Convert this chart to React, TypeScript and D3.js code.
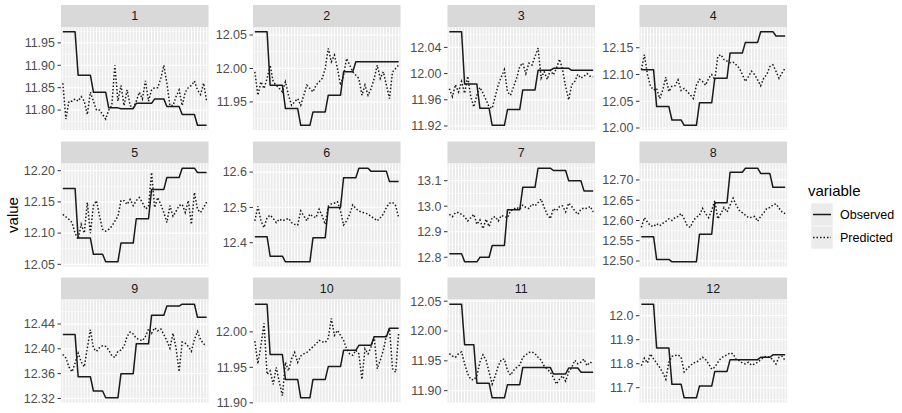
import React from 'react';
import * as d3 from 'd3';

const panelLabels = ['1', '2', '3', '4', '5', '6', '7', '8', '9', '10', '11', '12'];
const seriesNames = ['Observed', 'Predicted'];

const obs01 = [11.975,11.975,11.975,11.975,11.975,11.878,11.878,11.878,11.878,11.878,11.84,11.84,11.84,11.84,11.84,11.805,11.805,11.805,11.805,11.803,11.803,11.803,11.803,11.803,11.815,11.815,11.815,11.815,11.815,11.815,11.825,11.825,11.825,11.825,11.808,11.808,11.808,11.808,11.808,11.79,11.79,11.79,11.79,11.79,11.766,11.766,11.766,11.766];
const pred01 = [11.86,11.78,11.82,11.82,11.825,11.82,11.83,11.82,11.79,11.84,11.82,11.80,11.80,11.79,11.78,11.80,11.81,11.90,11.82,11.855,11.81,11.845,11.81,11.805,11.82,11.84,11.825,11.865,11.82,11.845,11.85,11.85,11.87,11.90,11.86,11.81,11.81,11.83,11.845,11.81,11.84,11.85,11.855,11.865,11.845,11.835,11.86,11.82];

const obs02 = [12.055,12.055,12.055,12.055,12.055,11.975,11.975,11.975,11.975,11.975,11.94,11.94,11.94,11.94,11.94,11.915,11.915,11.915,11.915,11.935,11.935,11.935,11.935,11.935,11.96,11.96,11.96,11.96,11.96,11.995,11.995,11.995,11.995,12.01,12.01,12.01,12.01,12.01,12.01,12.01,12.01,12.01,12.01,12.01,12.01,12.01,12.01,12.01];
const pred02 = [11.995,11.96,11.98,11.97,11.985,12.005,11.98,11.975,11.97,11.965,11.98,11.96,11.945,11.95,11.955,11.945,11.96,11.975,11.97,11.965,11.975,11.98,11.985,12.0,12.03,12.01,12.02,12.0,11.975,11.99,12.015,12.005,11.995,11.99,11.985,11.96,11.975,11.96,11.97,11.985,12.005,11.985,11.995,11.975,11.955,11.995,12.0,12.005];

const obs03 = [12.064,12.064,12.064,12.064,12.064,11.984,11.984,11.984,11.984,11.984,11.947,11.947,11.947,11.947,11.921,11.921,11.921,11.921,11.921,11.945,11.945,11.945,11.945,11.945,11.975,11.975,11.975,11.975,11.975,12.005,12.005,12.005,12.005,12.005,12.008,12.008,12.008,12.008,12.008,12.008,12.005,12.005,12.005,12.005,12.005,12.005,12.005,12.005];
const pred03 = [11.977,11.965,11.983,11.972,11.988,11.97,11.996,11.965,11.949,11.967,11.979,11.97,11.96,11.949,11.947,11.965,11.983,11.995,12.006,11.972,11.967,11.98,11.993,12.011,12.016,12.0,12.016,12.013,12.026,12.039,11.993,12.003,11.991,12.005,11.998,12.008,12.022,12.006,11.98,11.96,11.983,11.988,11.999,11.993,11.996,12.0,11.996,11.995];

const obs04 = [12.109,12.109,12.109,12.109,12.109,12.04,12.04,12.04,12.04,12.04,12.015,12.015,12.015,12.015,12.005,12.005,12.005,12.005,12.005,12.047,12.047,12.047,12.047,12.047,12.093,12.093,12.093,12.093,12.093,12.14,12.14,12.14,12.14,12.14,12.16,12.16,12.16,12.16,12.16,12.18,12.18,12.18,12.18,12.18,12.172,12.172,12.172,12.172];
const pred04 = [12.109,12.137,12.1,12.078,12.071,12.074,12.055,12.071,12.095,12.068,12.078,12.079,12.09,12.07,12.074,12.068,12.062,12.055,12.08,12.091,12.087,12.08,12.093,12.1,12.09,12.134,12.137,12.128,12.125,12.122,12.123,12.118,12.112,12.1,12.087,12.096,12.106,12.1,12.09,12.079,12.093,12.1,12.115,12.118,12.106,12.093,12.103,12.112];

const obs05 = [12.1715,12.1715,12.1715,12.1715,12.1715,12.092,12.092,12.092,12.092,12.092,12.066,12.066,12.066,12.066,12.054,12.054,12.054,12.054,12.054,12.084,12.084,12.084,12.084,12.084,12.123,12.123,12.123,12.123,12.123,12.17,12.17,12.17,12.17,12.17,12.189,12.189,12.189,12.189,12.189,12.204,12.204,12.204,12.204,12.204,12.197,12.197,12.197,12.197];
const pred05 = [12.13,12.126,12.122,12.117,12.1,12.09,12.114,12.1,12.149,12.1,12.144,12.152,12.127,12.106,12.103,12.106,12.111,12.119,12.127,12.152,12.152,12.146,12.154,12.144,12.152,12.157,12.149,12.139,12.142,12.197,12.141,12.157,12.146,12.133,12.117,12.144,12.127,12.135,12.144,12.146,12.133,12.152,12.114,12.165,12.138,12.133,12.141,12.15];

const obs06 = [12.417,12.417,12.417,12.417,12.417,12.362,12.362,12.362,12.362,12.362,12.346,12.346,12.346,12.346,12.346,12.346,12.346,12.346,12.346,12.414,12.414,12.414,12.414,12.414,12.5,12.5,12.5,12.5,12.5,12.584,12.584,12.584,12.584,12.584,12.611,12.611,12.611,12.611,12.602,12.602,12.602,12.602,12.602,12.602,12.573,12.573,12.573,12.573];
const pred06 = [12.462,12.503,12.462,12.443,12.471,12.478,12.469,12.457,12.467,12.462,12.465,12.469,12.457,12.452,12.45,12.49,12.476,12.462,12.481,12.474,12.471,12.495,12.476,12.452,12.503,12.51,12.512,12.516,12.49,12.45,12.462,12.481,12.507,12.497,12.49,12.486,12.484,12.481,12.474,12.469,12.462,12.471,12.481,12.5,12.512,12.514,12.505,12.471];

const obs07 = [12.814,12.814,12.814,12.814,12.814,12.782,12.782,12.782,12.782,12.782,12.8,12.8,12.8,12.8,12.846,12.846,12.846,12.846,12.846,12.986,12.986,12.986,12.986,12.986,13.074,13.074,13.074,13.074,13.074,13.149,13.149,13.149,13.149,13.149,13.14,13.14,13.14,13.14,13.14,13.1,13.1,13.1,13.1,13.1,13.06,13.06,13.06,13.06];
const pred07 = [12.968,12.959,12.975,12.975,12.968,12.959,12.942,12.955,12.968,12.929,12.946,12.912,12.949,12.92,12.955,12.959,12.942,12.964,12.959,12.955,12.982,12.988,12.995,12.988,13.004,12.995,12.991,13.008,13.001,13.014,13.028,12.995,12.968,12.951,12.991,12.982,12.999,13.001,12.978,13.012,12.999,12.982,12.968,12.988,12.993,12.991,12.999,12.978];

const obs08 = [12.56,12.56,12.56,12.56,12.56,12.504,12.504,12.504,12.504,12.504,12.498,12.498,12.498,12.498,12.498,12.498,12.498,12.498,12.498,12.566,12.566,12.566,12.566,12.566,12.644,12.644,12.644,12.644,12.644,12.719,12.719,12.719,12.719,12.719,12.729,12.729,12.729,12.729,12.729,12.716,12.716,12.716,12.716,12.682,12.682,12.682,12.682,12.682];
const pred08 = [12.583,12.607,12.596,12.587,12.585,12.592,12.587,12.593,12.598,12.604,12.6,12.607,12.61,12.617,12.604,12.587,12.583,12.6,12.608,12.613,12.63,12.617,12.607,12.625,12.649,12.604,12.617,12.632,12.621,12.638,12.655,12.638,12.625,12.619,12.613,12.607,12.608,12.61,12.598,12.61,12.619,12.63,12.632,12.638,12.641,12.63,12.621,12.617];

const obs09 = [12.423,12.423,12.423,12.423,12.423,12.355,12.355,12.355,12.355,12.355,12.332,12.332,12.332,12.332,12.321,12.321,12.321,12.321,12.321,12.36,12.36,12.36,12.36,12.36,12.408,12.408,12.408,12.408,12.408,12.454,12.454,12.454,12.454,12.454,12.469,12.469,12.469,12.469,12.469,12.472,12.472,12.472,12.472,12.472,12.451,12.451,12.451,12.451];
const pred09 = [12.391,12.385,12.371,12.363,12.377,12.393,12.379,12.371,12.401,12.431,12.401,12.396,12.402,12.405,12.404,12.398,12.389,12.386,12.396,12.398,12.404,12.42,12.427,12.424,12.417,12.415,12.413,12.42,12.432,12.425,12.434,12.429,12.432,12.423,12.413,12.401,12.425,12.401,12.363,12.411,12.409,12.404,12.396,12.415,12.428,12.415,12.408,12.405];

const obs10 = [12.039,12.039,12.039,12.039,12.039,11.968,11.968,11.968,11.968,11.968,11.933,11.933,11.933,11.933,11.933,11.907,11.907,11.907,11.907,11.933,11.933,11.933,11.933,11.933,11.951,11.951,11.951,11.951,11.951,11.974,11.974,11.974,11.974,11.974,11.981,11.981,11.981,11.981,11.981,11.993,11.993,11.993,11.993,11.993,12.005,12.005,12.005,12.005];
const pred10 = [11.987,11.955,11.981,12.012,11.94,11.945,11.926,11.95,11.929,11.91,11.957,11.945,11.962,11.971,11.957,11.966,11.969,11.971,11.975,11.979,11.983,11.988,11.986,11.985,11.991,12.019,11.995,12.002,11.995,11.988,11.976,11.969,11.967,11.974,11.969,11.933,11.976,11.969,11.979,11.993,11.948,11.96,11.974,11.995,12.005,11.948,11.943,11.998];

const obs11 = [12.045,12.045,12.045,12.045,12.045,11.977,11.977,11.977,11.977,11.9125,11.9125,11.9125,11.9125,11.9125,11.888,11.888,11.888,11.888,11.888,11.91,11.91,11.91,11.91,11.91,11.939,11.939,11.939,11.939,11.939,11.939,11.939,11.939,11.939,11.939,11.928,11.928,11.928,11.928,11.928,11.938,11.938,11.938,11.938,11.931,11.931,11.931,11.931,11.931];
const pred11 = [11.962,11.958,11.956,11.962,11.965,11.945,11.928,11.919,11.918,11.925,11.948,11.96,11.951,11.931,11.911,11.925,11.942,11.952,11.953,11.934,11.926,11.934,11.939,11.943,11.956,11.96,11.964,11.965,11.962,11.956,11.951,11.941,11.936,11.931,11.922,11.911,11.919,11.925,11.916,11.931,11.939,11.951,11.945,11.948,11.953,11.942,11.948,11.945];

const obs12 = [12.048,12.048,12.048,12.048,12.048,11.866,11.866,11.866,11.866,11.866,11.714,11.714,11.714,11.714,11.658,11.658,11.658,11.658,11.658,11.707,11.707,11.707,11.707,11.707,11.768,11.768,11.768,11.768,11.768,11.817,11.817,11.817,11.817,11.817,11.817,11.817,11.817,11.817,11.817,11.827,11.827,11.827,11.827,11.837,11.837,11.837,11.837,11.837];
const pred12 = [11.792,11.823,11.803,11.841,11.82,11.803,11.785,11.763,11.735,11.806,11.831,11.834,11.837,11.827,11.766,11.78,11.792,11.803,11.806,11.817,11.827,11.817,11.799,11.777,11.785,11.806,11.823,11.831,11.837,11.845,11.841,11.817,11.813,11.803,11.799,11.806,11.794,11.799,11.806,11.817,11.827,11.831,11.827,11.817,11.799,11.827,11.831,11.813];

const ticks01 = ['11.80', '11.85', '11.90', '11.95'];
const ticks02 = ['11.95', '12.00', '12.05'];
const ticks03 = ['11.92', '11.96', '12.00', '12.04'];
const ticks04 = ['12.00', '12.05', '12.10', '12.15'];
const ticks05 = ['12.05', '12.10', '12.15', '12.20'];
const ticks06 = ['12.4', '12.5', '12.6'];
const ticks07 = ['12.8', '12.9', '13.0', '13.1'];
const ticks08 = ['12.50', '12.55', '12.60', '12.65', '12.70'];
const ticks09 = ['12.32', '12.36', '12.40', '12.44'];
const ticks10 = ['11.90', '11.95', '12.00'];
const ticks11 = ['11.90', '11.95', '12.00', '12.05'];
const ticks12 = ['11.7', '11.8', '11.9', '12.0'];

const observedAll = [obs01, obs02, obs03, obs04, obs05, obs06, obs07, obs08, obs09, obs10, obs11, obs12];
const predictedAll = [pred01, pred02, pred03, pred04, pred05, pred06, pred07, pred08, pred09, pred10, pred11, pred12];
const ticksAll = [ticks01, ticks02, ticks03, ticks04, ticks05, ticks06, ticks07, ticks08, ticks09, ticks10, ticks11, ticks12];

const W = 902;
const H = 413;
const colLeft = [61, 253, 447.5, 639.5];
const panelW = 147.5;
const stripTop = [5, 141.5, 277.5];
const stripH = 22;
const panelH = 103;
const FONT = '"Liberation Sans", Arial, Helvetica, sans-serif';

function Panel({ idx }: { idx: number }) {
  const col = idx % 4;
  const row = Math.floor(idx / 4);
  const left = colLeft[col];
  const top = stripTop[row] + stripH;
  const bottom = top + panelH;
  const obs = observedAll[idx];
  const pred = predictedAll[idx];
  const n = obs.length;
  const all = obs.concat(pred);
  const lo = d3.min(all) as number;
  const hi = d3.max(all) as number;
  const pad = (hi - lo) * 0.05;
  const y = d3.scaleLinear().domain([lo - pad, hi + pad]).range([bottom, top]);
  const x = d3.scaleLinear().domain([1 - 0.6, n + 0.6]).range([left, left + panelW]);
  const tickLabels = ticksAll[idx];
  const tickVals = tickLabels.map((t) => parseFloat(t));
  const step = tickVals[1] - tickVals[0];
  const minor: number[] = [];
  for (let v = tickVals[0] - step / 2; v <= tickVals[tickVals.length - 1] + step / 2 + 1e-9; v += step) {
    if (v >= lo - pad && v <= hi + pad) minor.push(v);
  }
  const xs = d3.range(1, n + 1);
  const line = d3
    .line<number>()
    .x((_, i) => x(i + 1))
    .y((d) => y(d));
  return (
    <g>
      <rect x={left} y={stripTop[row]} width={panelW} height={stripH} fill="#D9D9D9" />
      <text
        x={left + panelW / 2}
        y={stripTop[row] + stripH / 2}
        dy="0.35em"
        textAnchor="middle"
        fontSize={12.5}
        fill="#1A1A1A"
        fontFamily={FONT}
      >
        {panelLabels[idx]}
      </text>
      <rect x={left} y={top} width={panelW} height={panelH} fill="#EBEBEB" />
      {minor.map((v, i) => (
        <line key={'mn' + i} x1={left} x2={left + panelW} y1={y(v)} y2={y(v)} stroke="#fff" strokeWidth={0.6} />
      ))}
      {tickVals.map((v, i) => (
        <line key={'mj' + i} x1={left} x2={left + panelW} y1={y(v)} y2={y(v)} stroke="#fff" strokeWidth={1.2} />
      ))}
      {xs.map((v) => (
        <line key={'vx' + v} x1={x(v)} x2={x(v)} y1={top} y2={bottom} stroke="#fff" strokeWidth={1} />
      ))}
      <path d={line(obs) || ''} fill="none" stroke="#1A1A1A" strokeWidth={1.5} strokeLinejoin="round" />
      <path d={line(pred) || ''} fill="none" stroke="#1A1A1A" strokeWidth={1.5} strokeDasharray="1.5 2" />
      {tickVals.map((v, i) => (
        <g key={'tk' + i}>
          <line x1={left - 3.5} x2={left} y1={y(v)} y2={y(v)} stroke="#333" strokeWidth={1} />
          <text
            x={left - 6}
            y={y(v)}
            dy="0.35em"
            textAnchor="end"
            fontSize={12.5}
            fill="#4D4D4D"
            fontFamily={FONT}
          >
            {tickLabels[i]}
          </text>
        </g>
      ))}
    </g>
  );
}

export default function App() {
  return (
    <svg width={W} height={H} style={{ position: 'absolute', left: 0, top: 0, background: '#fff' }}>
      <rect width={W} height={H} fill="#fff" />
      {panelLabels.map((_, i) => (
        <Panel key={i} idx={i} />
      ))}
      <text
        transform="translate(18,215) rotate(-90)"
        textAnchor="middle"
        fontSize={15}
        fill="#000"
        fontFamily={FONT}
      >
        value
      </text>
      <g>
        <text x={808} y={196} fontSize={15} fill="#000" fontFamily={FONT}>
          variable
        </text>
        {seriesNames.map((s, i) => (
          <g key={s}>
            <rect x={811} y={203 + i * 23} width={22} height={23} fill="#EBEBEB" stroke="#fff" strokeWidth={0.5} />
            <line
              x1={813}
              x2={831}
              y1={214.5 + i * 23}
              y2={214.5 + i * 23}
              stroke="#1A1A1A"
              strokeWidth={1.5}
              strokeDasharray={i === 0 ? undefined : '1.5 2'}
            />
            <text x={840} y={214.5 + i * 23} dy="0.35em" fontSize={12.5} fill="#000" fontFamily={FONT}>
              {s}
            </text>
          </g>
        ))}
      </g>
    </svg>
  );
}
